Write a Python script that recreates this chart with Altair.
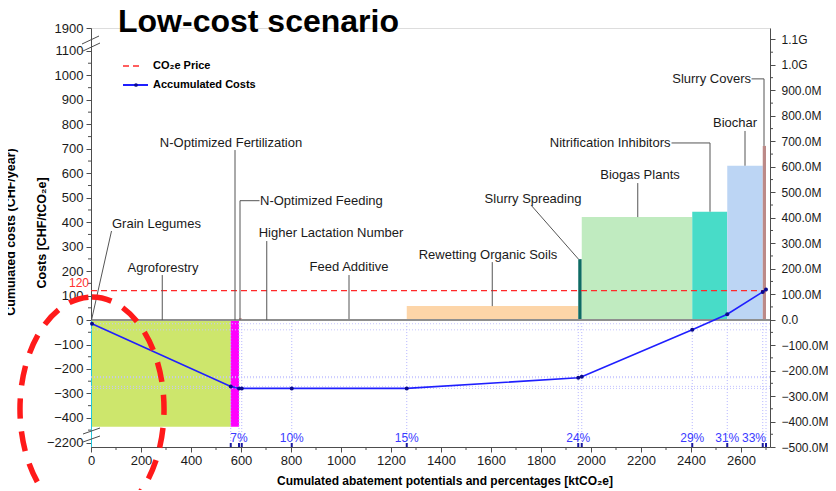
import altair as alt
import pandas as pd

# ---------------- data ----------------
measures = ["Grain Legumes", "Agroforestry", "N-Optimized Fertilization", "N-Optimized Feeding",
            "Higher Lactation Number", "Feed Additive", "Rewetting Organic Soils", "Slurry Spreading",
            "Biogas Plants", "Nitrification Inhibitors", "Biochar", "Slurry Covers"]
abatement = [4, 555, 33, 11, 200, 460, 686, 14, 442, 140, 142, 13]          # ktCO2e
unit_cost = [-4000, -436, -436, 6, 4, 4, 57, 249, 421, 443, 631, 712]       # CHF/tCO2e
bar_colors = ["#22c6dc", "#cde66c", "#ff00ff", "#b03030", "#44dd44", "#3fa6e6",
              "#fdd5a8", "#0e6b64", "#c0ebc0", "#48dcc8", "#bcd5f4", "#bc8a88"]
acc_costs_m = [-16, -262, -270, -270, -270, -270, -228, -224, -40, 21, 109, 118]   # million CHF/year
co2_price = 120
pct_labels = ["7%", "10%", "15%", "24%", "29%", "31%", "33%"]
pct_at = [592, 803, 1263, 1949, 2405, 2545, 2700]
x_ticks = list(range(0, 2601, 200))
x_minor = list(range(100, 2701, 200))
left_ticks = [-2200] + list(range(-400, 1101, 100)) + [1900]
left_minor = list(range(-450, 1100, 100))
right_ticks_m = list(range(-500, 1101, 100))
right_minor_m = list(range(-450, 1100, 100))

# label annotations: text, text x, text y (display units), alignment, leader path
annotations = [
    ("Grain Legumes", 84, 393, "left", [(82, 364), (2, 0)]),
    ("Agroforestry", 288, 213, "center", [(285, 184), (285, 0)]),
    ("N-Optimized Fertilization", 560, 724, "center", [(576, 695), (576, 0)]),
    ("N-Optimized Feeding", 676, 488, "left", [(674, 488), (596, 488), (596, 0)]),
    ("Higher Lactation Number", 960, 356, "center", [(703, 323), (703, 0)]),
    ("Feed Additive", 1032, 217, "center", [(1032, 184), (1032, 4)]),
    ("Rewetting Organic Soils", 1588, 266, "center", [(1605, 237), (1605, 57)]),
    ("Slurry Spreading", 1768, 495, "center", [(1760, 470), (1950, 249)]),
    ("Biogas Plants", 2196, 593, "center", [(2187, 560), (2187, 421)]),
    ("Nitrification Inhibitors", 2318, 724, "right", [(2322, 724), (2476, 724), (2476, 443)]),
    ("Biochar", 2576, 806, "center", [(2616, 773), (2616, 631)]),
    ("Slurry Covers", 2640, 986, "right", [(2642, 986), (2692, 986), (2692, 712)]),
]

# ---------------- helpers ----------------
W, H = 679, 419
Y_MIN, Y_MAX = -519, 1194


def disp(v):
    """broken left axis: compress below -460 and above 1100"""
    if v < -460:
        return max(-460 - (-460 - v) * 42 / 1740, Y_MIN)
    if v > 1100:
        return 1100 + (v - 1100) * 94 / 800
    return v


ends = []
s = 0
for a in abatement:
    s += a
    ends.append(s)
starts = [0] + ends[:-1]

bars = pd.DataFrame({"measure": measures, "x0": starts, "x1": ends,
                     "y": [disp(c) for c in unit_cost], "z": 0})
bounds = pd.DataFrame({"x": ends[1:], "y0": 0})
line_df = pd.DataFrame({"x": ends, "acc": [v * 1e6 for v in acc_costs_m]})
hdots = pd.DataFrame({"acc": [v * 1e6 for v in sorted(set(acc_costs_m)) if v < 0]})
pct_df = pd.DataFrame({"x": pct_at, "t": pct_labels})
one = pd.DataFrame({"z": [0], "p": [co2_price]})

lead_rows = []
for name, tx, ty, al, pts in annotations:
    for k, (px, py) in enumerate(pts):
        lead_rows.append({"label": name, "k": k, "x": px, "y": py})
lead_df = pd.DataFrame(lead_rows)
txt_df = pd.DataFrame([{"label": n, "x": tx, "y": ty, "al": al} for n, tx, ty, al, _ in annotations])

xs = alt.Scale(domain=[0, 2716], nice=False, zero=False)
yl = alt.Scale(domain=[Y_MIN, Y_MAX], nice=False, zero=False)
yr = alt.Scale(domain=[-500e6, 1145e6], nice=False, zero=False)

FONT = "Liberation Sans"
AX = dict(domainColor="#4d4d4d", tickColor="#4d4d4d", labelColor="#1a1a1a", labelFont=FONT,
          grid=False, title=None, tickSize=5, domainWidth=1, tickWidth=1,
          labelOverlap=False, labelFlush=False, labelBound=False, tickCount=60)


def X(f):
    return alt.X(f, type="quantitative", scale=xs)


def YL(f):
    return alt.Y(f, type="quantitative", scale=yl)


def YR(f):
    return alt.Y(f, type="quantitative", scale=yr)


# ---------------- left-scale layer (carries both left and bottom axes) ----------------
bar_layer = alt.Chart(bars).mark_rect().encode(
    x=alt.X("x0:Q", scale=xs, axis=alt.Axis(values=x_ticks, format="d", labelFontSize=13,
                                              labelPadding=2, **AX)),
    x2="x1:Q",
    y=alt.Y("y:Q", scale=yl, axis=alt.Axis(
        orient="left", values=[disp(t) for t in left_ticks], labelFontSize=13, labelPadding=3,
        labelExpr="datum.value < -450 ? '\u22122200' : (datum.value > 1150 ? '1900' : format(datum.value, 'd'))",
        **AX)),
    y2="z:Q",
    color=alt.Color("measure:N", scale=alt.Scale(domain=measures, range=bar_colors), legend=None),
)

# right-scale under layer: faint dotted levels of the accumulated curve
b_under = alt.Chart(hdots).mark_rule(color="#c4c4ff", strokeDash=[1, 2], strokeWidth=1).encode(
    y=alt.Y("acc:Q", scale=yr, axis=None), x=alt.value(0), x2=alt.value(W))

vdots = alt.Chart(bounds).mark_rule(color="#b4b4ff", strokeDash=[1, 2], strokeWidth=1).encode(
    x=X("x"), y=YL("y0"), y2=alt.value(H))

zero_line = alt.Chart(one).mark_rule(color="#8f8f8f", strokeWidth=2).encode(
    y=YL("z"), x=alt.value(0), x2=alt.value(W))
price_line = alt.Chart(one).mark_rule(color="#ff2a2a", strokeDash=[6, 4], strokeWidth=1.3).encode(
    y=YL("p"), x=alt.value(0), x2=alt.value(W))
price_lab = alt.Chart(one).mark_text(color="#ff3030", fontSize=12, align="right", baseline="bottom",
                                     font=FONT, dy=-1).encode(
    y=YL("p"), x=alt.value(-2), text=alt.value(str(co2_price)))

leaders = alt.Chart(lead_df).mark_line(color="#555555", strokeWidth=1).encode(
    x=X("x"), y=YL("y"), detail="label:N", order="k:Q")

texts = []
for al in ["left", "center", "right"]:
    texts.append(alt.Chart(txt_df).transform_filter(alt.datum.al == al).mark_text(
        align=al, baseline="middle", fontSize=13, font=FONT, color="#1a1a1a").encode(
        x=X("x"), y=YL("y"), text="label:N"))

pct_main = alt.Chart(pct_df).transform_filter(alt.datum.x < 2600).mark_text(
    color="#3a3aff", fontSize=12, font=FONT, align="center", baseline="middle").encode(
    x=X("x"), y=alt.value(H - 9), text="t:N")
pct_last = alt.Chart(pct_df).transform_filter(alt.datum.x >= 2600).mark_text(
    color="#3a3aff", fontSize=12, font=FONT, align="right", baseline="middle").encode(
    x=X("x"), y=alt.value(H - 9), text="t:N")
btm_ticks = alt.Chart(bounds).mark_rule(color="#1a1aa0", strokeWidth=2).encode(
    x=X("x"), y=alt.value(H - 4), y2=alt.value(H))

lminor = alt.Chart(pd.DataFrame({"v": left_minor})).mark_rule(color="#4d4d4d").encode(
    y=YL("v"), x=alt.value(-3), x2=alt.value(0))
xminor = alt.Chart(pd.DataFrame({"v": x_minor})).mark_rule(color="#4d4d4d").encode(
    x=X("v"), y=alt.value(H), y2=alt.value(H + 3))

brk = []
for (xa, ya, xb, yb) in [(-9, 16, 8, 8), (-8, 23, 9, 15), (-8, 406, 9, 400), (-8, 414, 9, 408)]:
    brk.append(alt.Chart(one).mark_rule(color="#4d4d4d", strokeWidth=1).encode(
        x=alt.value(xa), y=alt.value(ya), x2=alt.value(xb), y2=alt.value(yb)))

title = alt.Chart(one).mark_text(text="Low-cost scenario", fontSize=32, fontWeight="bold", font=FONT,
                                 align="left", baseline="alphabetic", color="#000000").encode(
    x=alt.value(27), y=alt.value(4))
leg_red = alt.Chart(one).mark_rule(color="#ff2a2a", strokeDash=[6, 4], strokeWidth=1.5).encode(
    x=alt.value(32), x2=alt.value(52), y=alt.value(38))
leg_blue = alt.Chart(one).mark_rule(color="#1f1fff", strokeWidth=2).encode(
    x=alt.value(32), x2=alt.value(57), y=alt.value(57))
leg_dot = alt.Chart(one).mark_point(filled=True, size=14, color="#0a0a8c", opacity=1).encode(
    x=alt.value(45), y=alt.value(57))
leg_t1 = alt.Chart(one).mark_text(text="CO\u2082e Price", fontSize=11, fontWeight="bold", font=FONT,
                                  align="left", baseline="middle").encode(x=alt.value(62), y=alt.value(38))
leg_t2 = alt.Chart(one).mark_text(text="Accumulated Costs", fontSize=11, fontWeight="bold", font=FONT,
                                  align="left", baseline="middle").encode(x=alt.value(62), y=alt.value(57))
ytitle = alt.Chart(one).mark_text(text="Costs [CHF/tCO\u2082e]", fontSize=12.5, fontWeight="bold",
                                  font=FONT, angle=270, align="center", baseline="middle").encode(
    x=alt.value(-49), y=alt.value(205))
ytitle2 = alt.Chart(one).mark_text(text="Cumulated costs (CHF/year)", fontSize=12.5, fontWeight="bold",
                                   font=FONT, angle=270, align="center", baseline="middle").encode(
    x=alt.value(-80), y=alt.value(204))
xtitle = alt.Chart(one).mark_text(text="Cumulated abatement potentials and percentages [ktCO\u2082e]",
                                  fontSize=12, fontWeight="bold", font=FONT, align="center",
                                  baseline="middle").encode(x=alt.value(354), y=alt.value(H + 34))

a_layer = alt.layer(bar_layer, vdots, zero_line, price_line, price_lab, leaders, *texts,
                    pct_main, pct_last, btm_ticks, lminor, xminor, *brk, title,
                    leg_red, leg_blue, leg_dot, leg_t1, leg_t2, ytitle, ytitle2, xtitle)

# ---------------- right-scale over layer ----------------
acc_line = alt.Chart(line_df).mark_line(color="#1f1fff", strokeWidth=1.6).encode(
    x=X("x"),
    y=alt.Y("acc:Q", scale=yr, axis=alt.Axis(
        orient="right", values=[v * 1e6 for v in right_ticks_m], labelFontSize=12, labelPadding=6,
        labelExpr="datum.value >= 1e9 ? format(datum.value / 1e9, '.1f') + 'G' : "
                  "(datum.value == 0 ? '0.0' : format(datum.value / 1e6, '.1f') + 'M')",
        **AX)))
acc_pts = alt.Chart(line_df).mark_point(filled=True, size=16, color="#0a0a8c", opacity=1).encode(
    x=X("x"), y=YR("acc"))
rminor = alt.Chart(pd.DataFrame({"v": [m * 1e6 for m in right_minor_m]})).mark_rule(color="#4d4d4d").encode(
    y=YR("v"), x=alt.value(W), x2=alt.value(W + 3))

a_ = 0.643
kx = 0.5523 * a_
k = 0.5523
ellipse_path = (f"M 0 -1 C {kx} -1 {a_} -{k} {a_} 0 C {a_} {k} {kx} 1 0 1 "
                f"C -{kx} 1 -{a_} {k} -{a_} 0 C -{a_} -{k} -{kx} -1 0 -1 Z")
ellipse = alt.Chart(one).mark_point(shape=ellipse_path, size=224 ** 2, filled=False, color="#ff1a1a",
                                    strokeWidth=5.5, strokeDash=[20, 13], opacity=1).encode(
    x=alt.value(1), y=alt.value(381))

b_over = alt.layer(acc_line, acc_pts, rminor, ellipse)

chart = alt.layer(a_layer, b_under, b_over).resolve_scale(y="independent").properties(
    width=W, height=H,
    autosize=alt.AutoSizeParams(type="none"),
    padding={"left": 83, "top": 20, "right": 58, "bottom": 43},
).configure_view(stroke=None).configure(font=FONT)

chart.save("out.html", embed_options={"renderer": "svg", "actions": False})
